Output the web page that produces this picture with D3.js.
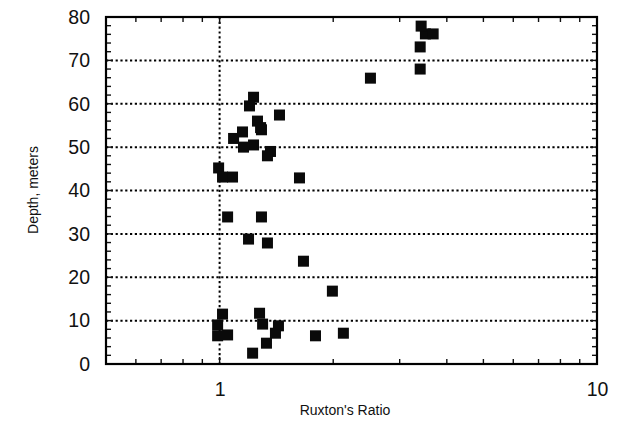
<!DOCTYPE html>
<html><head><meta charset="utf-8">
<script src="https://cdn.jsdelivr.net/npm/d3@7"></script>
<style>body{margin:0;background:#fff}svg{display:block}</style>
</head><body>
<svg id="c" width="623" height="423"></svg>
<script>
const ruxton = [1.018,0.988,0.988,1.05,1.276,1.30,1.432,1.406,1.331,1.223,1.795,2.128,1.99,1.668,
  1.05,1.291,1.193,1.339,1.628,0.994,1.018,1.082,
  1.364,1.339,1.23,1.291,1.157,1.089,1.15,1.26,1.284,1.441,1.23,1.20,
  2.51,3.40,3.40,3.51,3.68,3.42];
const depth = [11.5,9.0,6.5,6.7,11.7,9.2,8.8,7.1,4.8,2.5,6.5,7.1,16.8,23.7,
  33.9,33.9,28.8,27.9,42.9,45.2,43.1,43.1,
  49.0,48.0,50.5,54.0,50.0,52.0,53.5,56.0,54.5,57.4,61.5,59.5,
  65.9,68.0,73.1,76.1,76.1,77.9];
const xTicks = [1, 10];
const yTicks = [0,10,20,30,40,50,60,70,80];
const gridY = [10,20,30,40,50,60,70];
const gridX = [1];
const xTitle = "Ruxton's Ratio";
const yTitle = "Depth, meters";

const svg = d3.select('#c');
const L=106, R=597, T=17, B=364;
const x = d3.scaleLog().domain([0.5,10]).range([L,R]);
const y = d3.scaleLinear().domain([0,80]).range([B,T]);
const font = "'Liberation Sans', Arial, sans-serif";

// grid
svg.append('g').selectAll('line').data(gridY).join('line')
  .attr('x1',L).attr('x2',R).attr('y1',d=>y(d)).attr('y2',d=>y(d))
  .attr('stroke','#000').attr('stroke-width',2).attr('stroke-dasharray','2.2,2.6');
svg.append('g').selectAll('line').data(gridX).join('line')
  .attr('x1',d=>x(d)).attr('x2',d=>x(d)).attr('y1',T).attr('y2',B)
  .attr('stroke','#000').attr('stroke-width',2).attr('stroke-dasharray','2.2,2.6');

// minor/major ticks (inward)
const xMinor = [0.6,0.7,0.8,0.9,1,2,3,4,5,6,7,8,9];
const yMinor = d3.range(2,80,2);
const tk = svg.append('g').attr('stroke','#111').attr('stroke-width',1.4);
xMinor.forEach(v=>{
  const len = (v===1)?7:5;
  tk.append('line').attr('x1',x(v)).attr('x2',x(v)).attr('y1',B).attr('y2',B-len);
  tk.append('line').attr('x1',x(v)).attr('x2',x(v)).attr('y1',T).attr('y2',T+len);
});
yMinor.forEach(v=>{
  const len = (v%10===0)?7:5;
  tk.append('line').attr('x1',L).attr('x2',L+len).attr('y1',y(v)).attr('y2',y(v));
  tk.append('line').attr('x1',R).attr('x2',R-len).attr('y1',y(v)).attr('y2',y(v));
});
// frame
svg.append('rect').attr('x',L).attr('y',T).attr('width',R-L).attr('height',B-T)
  .attr('fill','none').attr('stroke','#000').attr('stroke-width',2.2);

// axes labels via d3 axes
const ax = d3.axisBottom(x).tickValues(xTicks).tickFormat(d3.format('d')).tickSize(0).tickPadding(18);
const gx = svg.append('g').attr('transform',`translate(0,${B})`).call(ax);
gx.select('.domain').remove();
gx.selectAll('text').attr('font-family',font).attr('font-size',19.5).attr('fill','#111');
const ay = d3.axisLeft(y).tickValues(yTicks).tickSize(0).tickPadding(16);
const gy = svg.append('g').attr('transform',`translate(${L},0)`).call(ay);
gy.select('.domain').remove();
gy.selectAll('text').attr('font-family',font).attr('font-size',19.5).attr('fill','#111');

svg.append('text').attr('x',345).attr('y',415).attr('text-anchor','middle')
  .attr('font-family',font).attr('font-size',14).attr('fill','#111').text(xTitle);
svg.append('text').attr('transform','translate(38,190) rotate(-90)').attr('text-anchor','middle')
  .attr('font-family',font).attr('font-size',14).attr('fill','#111').text(yTitle);

// points
const s = 11;
svg.append('g').selectAll('rect').data(ruxton.map((r,i)=>[r,depth[i]])).join('rect')
  .attr('x',d=>x(d[0])-s/2).attr('y',d=>y(d[1])-s/2).attr('width',s).attr('height',s)
  .attr('fill','#0a0a0a');
</script>
</body></html>
